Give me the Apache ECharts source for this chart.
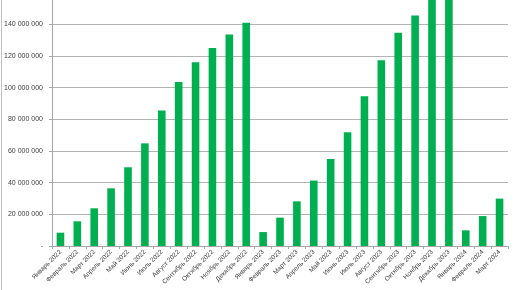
<!DOCTYPE html>
<html><head><meta charset="utf-8">
<script src="https://cdn.jsdelivr.net/npm/echarts@6/dist/echarts.min.js"></script>
<style>html,body{margin:0;padding:0;background:#fff}#c{width:516px;height:290px}</style>
</head><body><div id="c"></div>
<script>
const categories = ["Январь 2022","Февраль 2022","Март 2022","Апрель 2022","Май 2022","Июнь 2022","Июль 2022","Август 2022","Сентябрь 2022","Октябрь 2022","Ноябрь 2022","Декабрь 2022","Январь 2023","Февраль 2023","Март 2023","Апрель 2023","Май 2023","Июнь 2023","Июль 2023","Август 2023","Сентябрь 2023","Октябрь 2023","Ноябрь 2023","Декабрь 2023","Январь 2024","Февраль 2024","Март 2024"];
const values = [8400000,15600000,23800000,36400000,49700000,64800000,85500000,103600000,116000000,125000000,133500000,141000000,8800000,17900000,28200000,41300000,55000000,71800000,94500000,117300000,134700000,145500000,162000000,170000000,9900000,18900000,29900000];
const yTickStep = 20000000;
const yVisibleMax = 155300000;

const chart = echarts.init(document.getElementById('c'));
const fmt = v => v % yTickStep !== 0 ? '' : (v === 0 ? '-' : String(v).replace(/\B(?=(\d{3})+(?!\d))/g, ' '));
chart.setOption({
  animation: false,
  grid: {left: 52, right: 8, top: 0, bottom: 44, containLabel: false},
  xAxis: {
    type: 'category', data: categories,
    axisLine: {lineStyle: {color: '#a6a6a6', width: 1}},
    axisTick: {show: true, length: 3, lineStyle: {color: '#a6a6a6'}},
    axisLabel: {rotate: 45, fontSize: 6.5, color: '#404040', fontFamily: 'Liberation Sans', margin: 5, interval: 0}
  },
  yAxis: {
    type: 'value', min: 0, max: yVisibleMax, interval: yTickStep,
    axisLine: {show: true, lineStyle: {color: '#a6a6a6', width: 1}},
    axisTick: {show: true, length: 3, lineStyle: {color: '#a6a6a6'}},
    splitLine: {showMaxLine: false, lineStyle: {color: '#b3b3b3', width: 1}},
    axisLabel: {fontSize: 7, color: '#404040', fontFamily: 'Liberation Sans', margin: 9, formatter: fmt, showMaxLabel: false}
  },
  series: [{type: 'bar', data: values, barWidth: '45%', itemStyle: {color: '#00b050'}, clip: true}],
  graphic: [{type: 'line', shape: {x1: 1.5, y1: 0, x2: 1.5, y2: 290}, style: {stroke: '#bfbfbf', lineWidth: 1}}]
});
</script></body></html>
